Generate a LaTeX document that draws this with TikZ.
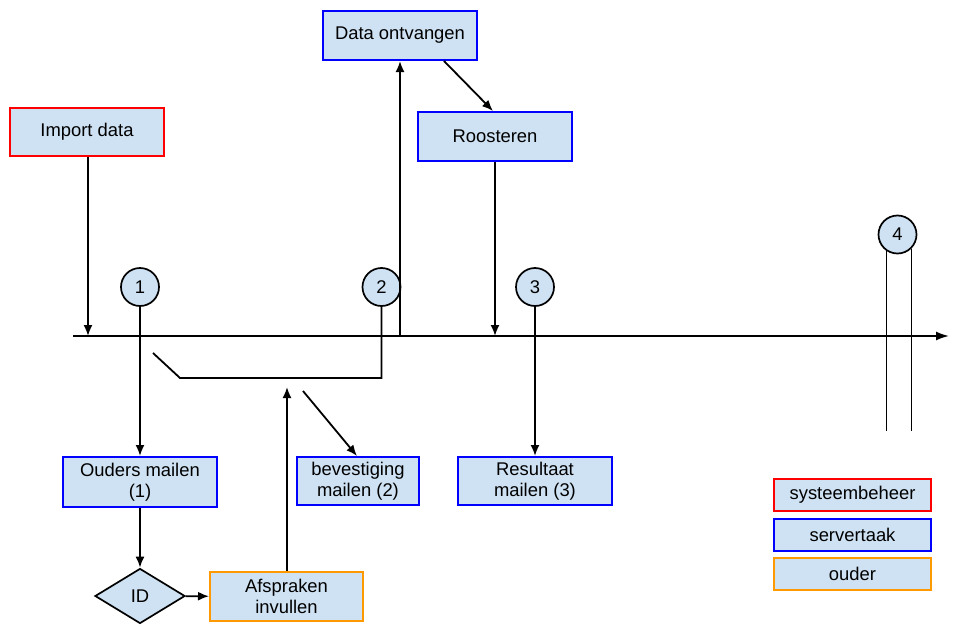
\documentclass[tikz,border=0pt]{standalone}
\usepackage{fontspec}
\setmainfont{Liberation Sans}
\usetikzlibrary{arrows.meta,shapes.geometric}
\definecolor{boxfill}{HTML}{CFE2F3}
\definecolor{sysred}{HTML}{FF0000}
\definecolor{srvblue}{HTML}{0000FF}
\definecolor{parorange}{HTML}{FF9900}
\tikzset{
  every node/.style={font=\fontsize{18.4}{20.5}\selectfont},
  box/.style={rectangle, fill=boxfill, line width=2pt, align=center, inner sep=0pt},
  sysbox/.style={box, draw=sysred},
  srvbox/.style={box, draw=srvblue},
  parbox/.style={box, draw=parorange},
  numcirc/.style={circle, draw=black, fill=boxfill, line width=1.7pt, minimum size=38pt, inner sep=0pt},
  iddiam/.style={diamond, draw=black, fill=boxfill, line width=1.7pt, minimum width=90pt, minimum height=55pt, inner sep=0pt, aspect=1.6},
  conn/.style={draw=black, line width=1.8pt},
  arr/.style={conn, -{Latex[length=11pt,width=9pt]}},
}
\begin{document}
\begin{tikzpicture}[x=1pt,y=-1pt]
\useasboundingbox (0,0) rectangle (970,629);
% boxes
\node[sysbox, minimum width=154pt, minimum height=48pt] (imp) at (87,132) {Import data};
\node[srvbox, minimum width=154pt, minimum height=49pt] (dat) at (400,35.5) {Data ontvangen};
\node[srvbox, minimum width=154pt, minimum height=49pt] (roo) at (495,136.5) {Roosteren};
\node[srvbox, minimum width=154pt, minimum height=50pt] (oud) at (140,482) {Ouders mailen\\(1)};
\node[srvbox, minimum width=122pt, minimum height=48pt] (bev) at (358,481) {bevestiging\\mailen (2)};
\node[srvbox, minimum width=154pt, minimum height=48pt] (res) at (535,481) {Resultaat\\mailen (3)};
\node[parbox, minimum width=153pt, minimum height=49pt] (afs) at (286.5,596.5) {Afspraken\\invullen};
\node[iddiam] (id) at (140,596) {ID};
% legend
\node[sysbox, minimum width=157pt, minimum height=32pt] (lsys) at (852.5,495) {systeembeheer};
\node[srvbox, minimum width=157pt, minimum height=32pt] (lsrv) at (852.5,534.5) {servertaak};
\node[parbox, minimum width=157pt, minimum height=32pt] (lpar) at (852.5,574) {ouder};
% circles
\node[numcirc] (c1) at (140,287) {1};
\node[numcirc] (c2) at (381.5,287) {2};
\node[numcirc] (c3) at (535,287) {3};
\node[numcirc] (c4) at (897.5,234.5) {4};
% timeline
\coordinate (tls) at (73,336);
\coordinate (tle) at (949,336);
\draw[conn, -{Latex[length=13pt,width=9pt]}] (tls) -- (tle);
% coordinates on the timeline
\coordinate (timp) at (88,336);
\coordinate (tdat) at (400,336);
\coordinate (troo) at (495,336);
% arrows
\draw[arr] (imp.south -| timp) -- (timp);
\draw[arr] (tdat) -- (dat.south -| tdat);
\draw[arr] (dat.south east) ++(-34,0) coordinate (dse) -- (roo.north -| 493,0);
\draw[arr] (roo.south -| troo) -- (troo);
\draw[arr] (c1) -- (oud);
\draw[arr] (c3) -- (res);
\draw[arr] (oud) -- (id);
\draw[arr] (id) -- (afs);
% circle 2 path
\coordinate (k1) at (381.5,378);
\coordinate (k2) at (180,378);
\coordinate (k3) at (153,353);
\draw[conn] (c2) -- (k1) -- (k2) -- (k3);
% up arrow from afspraken and diagonal to bevestiging
\coordinate (up) at (287,387);
\draw[arr] (afs.north -| up) -- (up);
\coordinate (dg) at (303,391);
\draw[arr] (dg) -- (bev.north -| 357,0);
% circle 4 lines
\coordinate (e4a) at (887,431);
\coordinate (e4b) at (911,431);
\draw[conn] (c4.236) -- (c4.236 |- e4a);
\draw[conn] (c4.315) -- (c4.315 |- e4b);
\end{tikzpicture}
\end{document}
